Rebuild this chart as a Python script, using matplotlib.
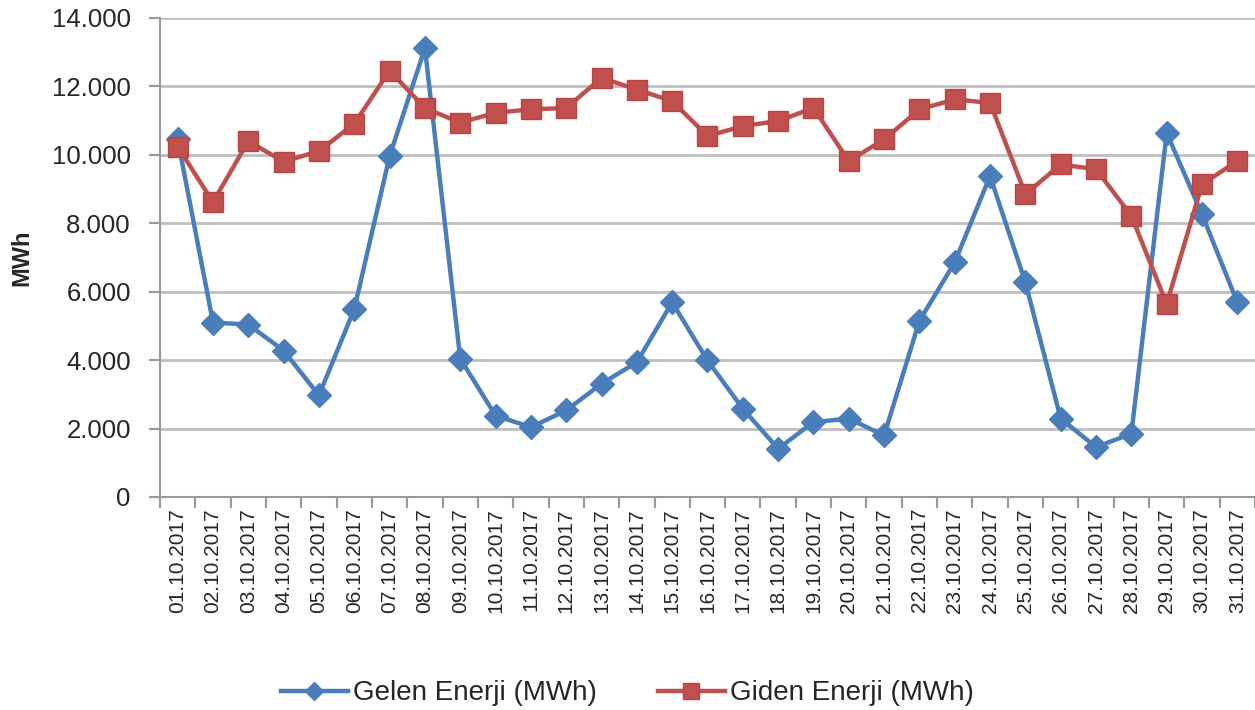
import matplotlib
matplotlib.use('Agg')
import matplotlib.pyplot as plt
from matplotlib.ticker import FuncFormatter, FixedLocator
import numpy as np

# tarih etiketleri (Ekim 2017)
tarihler = [f'{g:02d}.10.2017' for g in range(1, 32)]

# Gelen Enerji (MWh)
gelen = [10450, 5100, 5040, 4280, 2970, 5490, 9960, 13120, 4040, 2380,
         2040, 2530, 3310, 3940, 5690, 3990, 2580, 1410, 2190, 2290,
         1800, 5150, 6860, 9380, 6270, 2290, 1460, 1850, 10640, 8260,
         5690]

# Giden Enerji (MWh)
giden = [10240, 8620, 10400, 9800, 10110, 10910, 12460, 11370, 10940, 11230,
         11330, 11370, 12250, 11910, 11570, 10550, 10840, 10990, 11370, 9820,
         10450, 11330, 11620, 11520, 8850, 9720, 9580, 8220, 5640, 9140,
         9820]

plt.rcParams['font.family'] = ['Liberation Sans', 'DejaVu Sans']

mavi = '#4A7EBB'
kirmizi = '#C0504D'
gri = '#BFBFBF'
yazi = '#262626'

fig = plt.figure(figsize=(12.55, 7.10), dpi=100)
ax = fig.add_axes([160/1255, 1 - 497/710, 1095/1255, 479/710])

x = np.arange(len(tarihler))

ax.plot(x, gelen, color=mavi, linewidth=3.2, marker='D', markersize=12.5,
        markerfacecolor=mavi, markeredgecolor=mavi, label='Gelen Enerji (MWh)', zorder=3)
ax.plot(x, giden, color=kirmizi, linewidth=3.2, marker='s', markersize=15,
        markerfacecolor=kirmizi, markeredgecolor='#B84542', markeredgewidth=1,
        label='Giden Enerji (MWh)', zorder=4)

ax.set_xlim(-0.5, len(tarihler) - 0.5)
ax.set_ylim(0, 14000)
ax.set_yticks(np.arange(0, 14001, 2000))
ax.yaxis.set_major_formatter(FuncFormatter(lambda v, _: f'{int(v):,}'.replace(',', '.')))
ax.grid(axis='y', color=gri, linewidth=2)
ax.set_axisbelow(True)

ax.set_xticks(x)
ax.set_xticklabels(tarihler, rotation=90, fontsize=15, color=yazi)
ax.xaxis.set_minor_locator(FixedLocator(np.arange(-0.5, len(tarihler), 1)))
ax.tick_params(axis='x', which='major', length=0, pad=8)
ax.tick_params(axis='x', which='minor', length=8, width=1.5, color='#999999')
ax.tick_params(axis='y', length=8, width=1.5, color='#999999', pad=13, labelsize=18.5, labelcolor=yazi)

for s in ['top', 'right']:
    ax.spines[s].set_visible(False)
for s in ['left', 'bottom']:
    ax.spines[s].set_color('#999999')
    ax.spines[s].set_linewidth(1.5)

ax.set_ylabel('MWh', fontsize=17, fontweight='bold', color=yazi)
ax.yaxis.set_label_coords(-0.116, 0.5)

fig.legend(loc='lower center', bbox_to_anchor=(0.5, -0.03), ncol=2, frameon=False,
           fontsize=20, handlelength=2.4, handletextpad=0.2, columnspacing=2.2,
           markerscale=0.75, labelcolor=yazi)

fig.savefig('out.png', dpi=100)
